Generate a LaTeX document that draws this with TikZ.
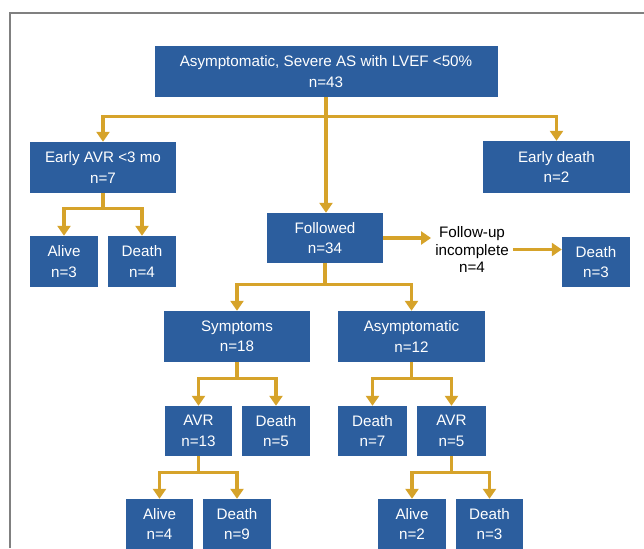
\documentclass[tikz,border=0pt]{standalone}
\usepackage{fontspec}
\setmainfont{Liberation Sans}
\usetikzlibrary{arrows.meta}
\definecolor{boxblue}{RGB}{44,94,158}
\definecolor{linegold}{RGB}{214,163,42}
\definecolor{framegray}{RGB}{128,128,128}
\tikzset{
  box/.style={draw=none, fill=boxblue, text=white, inner sep=0pt, align=center,
    font=\fontsize{15.2}{20.5}\selectfont},
  plain/.style={inner sep=4pt, align=center, text=black,
    font=\fontsize{15.2}{17.5}\selectfont},
  conn/.style={draw=linegold, line width=3.2pt, -{Triangle[width=13pt,length=10pt]}},
  bar/.style={draw=linegold, line width=3.2pt},
}
\begin{document}
\begin{tikzpicture}[x=1pt,y=-1pt]
\useasboundingbox (0,0) rectangle (644,548);
\draw[framegray, line width=1.2pt] (10,548) -- (10,13) -- (644,13);
% boxes
\node[box, minimum width=343pt, minimum height=51pt] (top) at (326,71.5) {Asymptomatic, Severe AS with LVEF <50\%\\n=43};
\node[box, minimum width=146pt, minimum height=51pt] (eavr) at (103,167.5) {Early AVR <3 mo\\n=7};
\node[box, minimum width=147pt, minimum height=52pt] (edeath) at (556.5,167) {Early death\\n=2};
\node[box, minimum width=68pt, minimum height=51pt] (alive3) at (64,261.5) {Alive\\n=3};
\node[box, minimum width=68pt, minimum height=51pt] (death4) at (142,261.5) {Death\\n=4};
\node[box, minimum width=116pt, minimum height=50pt] (fol) at (325,238) {Followed\\n=34};
\node[plain] (fu) at (472,249.5) {Follow-up\\incomplete\\n=4};
\node[box, minimum width=68pt, minimum height=50pt] (death3r) at (596,262) {Death\\n=3};
\node[box, minimum width=146pt, minimum height=51pt] (sym) at (237,336.5) {Symptoms\\n=18};
\node[box, minimum width=147pt, minimum height=51pt] (asym) at (411.5,336.5) {Asymptomatic\\n=12};
\node[box, minimum width=67pt, minimum height=50pt] (avr13) at (198.5,431) {AVR\\n=13};
\node[box, minimum width=68pt, minimum height=50pt] (death5) at (276,431) {Death\\n=5};
\node[box, minimum width=69pt, minimum height=50pt] (death7) at (372.5,431) {Death\\n=7};
\node[box, minimum width=69pt, minimum height=50pt] (avr5) at (451.5,431) {AVR\\n=5};
\node[box, minimum width=67pt, minimum height=50pt] (alive4) at (159.5,524) {Alive\\n=4};
\node[box, minimum width=68pt, minimum height=50pt] (death9) at (237,524) {Death\\n=9};
\node[box, minimum width=68pt, minimum height=50pt] (alive2) at (412,524) {Alive\\n=2};
\node[box, minimum width=67pt, minimum height=50pt] (death3) at (489.5,524) {Death\\n=3};
% connectors from top
\coordinate (j0) at ([yshift=-19pt]top.south);
\draw[bar] (top.south) -- (j0);
\draw[conn] (j0) -| (eavr.north);
\draw[conn] (j0) -| (edeath.north);
\draw[conn] (j0) -- (j0 |- fol.north);
% early AVR
\coordinate (j1) at ([yshift=-15pt]eavr.south);
\draw[bar] (eavr.south) -- (j1);
\draw[conn] (j1) -| (alive3.north);
\draw[conn] (j1) -| (death4.north);
% followed
\draw[conn] (fol.east) -- (fol.east -| fu.west);
\draw[conn] (fu.east) -- (fu.east -| death3r.west);
\coordinate (j2) at ([yshift=-21pt]fol.south);
\draw[bar] (fol.south) -- (j2);
\draw[conn] (j2) -| (sym.north);
\draw[conn] (j2) -| (asym.north);
% symptoms
\coordinate (j3) at ([yshift=-16pt]sym.south);
\draw[bar] (sym.south) -- (j3);
\draw[conn] (j3) -| (avr13.north);
\draw[conn] (j3) -| (death5.north);
% asymptomatic
\coordinate (j4) at ([yshift=-16pt]asym.south);
\draw[bar] (asym.south) -- (j4);
\draw[conn] (j4) -| (death7.north);
\draw[conn] (j4) -| (avr5.north);
% AVR 13
\coordinate (j5) at ([yshift=-16pt]avr13.south);
\draw[bar] (avr13.south) -- (j5);
\draw[conn] (j5) -| (alive4.north);
\draw[conn] (j5) -| (death9.north);
% AVR 5
\coordinate (j6) at ([yshift=-16pt]avr5.south);
\draw[bar] (avr5.south) -- (j6);
\draw[conn] (j6) -| (alive2.north);
\draw[conn] (j6) -| (death3.north);
\end{tikzpicture}
\end{document}
